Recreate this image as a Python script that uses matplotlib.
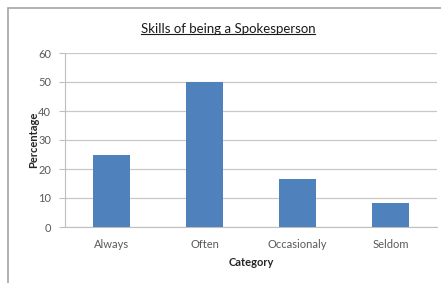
import matplotlib
matplotlib.use("Agg")
import matplotlib.pyplot as plt
from matplotlib.patches import Rectangle

categories = ["Always", "Often", "Occasionaly", "Seldom"]
values = [25, 50, 16.7, 8.3]
yticks = [0, 10, 20, 30, 40, 50, 60]

plt.rcParams['font.family'] = ['Lato', 'DejaVu Sans']

fig = plt.figure(figsize=(4.41, 2.83), dpi=100)
fig.patch.set_facecolor("white")
# outer chart frame (cropped on right and bottom)
fig.patches.append(Rectangle((8/441, -0.1), 1.2, 1 - 8/283 + 0.1, transform=fig.transFigure,
                             fill=False, edgecolor="#a6a6a6", linewidth=1.2))

ax = fig.add_axes([65/441, 1 - 227/283, (437 - 65)/441, (227 - 53)/283])
x = range(len(categories))
ax.bar(x, values, width=0.4, color="#4F81BD", zorder=3)
ax.set_xlim(-0.5, len(categories) - 0.5)
ax.set_ylim(0, 60)
ax.set_yticks(yticks)
ax.set_xticks(list(x))
ax.set_xticklabels(categories)
ax.grid(axis="y", color="#c8c8c8", linewidth=0.9, zorder=0)
for s in ["top", "right"]:
    ax.spines[s].set_visible(False)
ax.spines["left"].set_color("#bfbfbf")
ax.spines["bottom"].set_color("#bfbfbf")
ax.tick_params(axis="y", length=4, color="#bfbfbf", labelsize=8, labelcolor="#595959", pad=6)
ax.tick_params(axis="x", length=0, labelsize=8, labelcolor="#595959", pad=9)
ax.set_ylabel("Percentage", fontsize=8, fontweight="bold", color="#262626", labelpad=-1)
ax.set_xlabel("Category", fontsize=8, fontweight="bold", color="#262626", labelpad=5)

fig.text(228/441, 1 - 29/283, "Skills of being a Spokesperson", ha="center", va="center",
         fontsize=9.5, color="#1a1a1a")
# underline for title
t = fig.texts[-1]
fig.canvas.draw()
bb = t.get_window_extent().transformed(fig.transFigure.inverted())
fig.add_artist(plt.Line2D([bb.x0, bb.x1], [bb.y0 + 0.004, bb.y0 + 0.004], transform=fig.transFigure,
                          color="#1a1a1a", linewidth=0.8))

fig.savefig("out.png", dpi=100)
